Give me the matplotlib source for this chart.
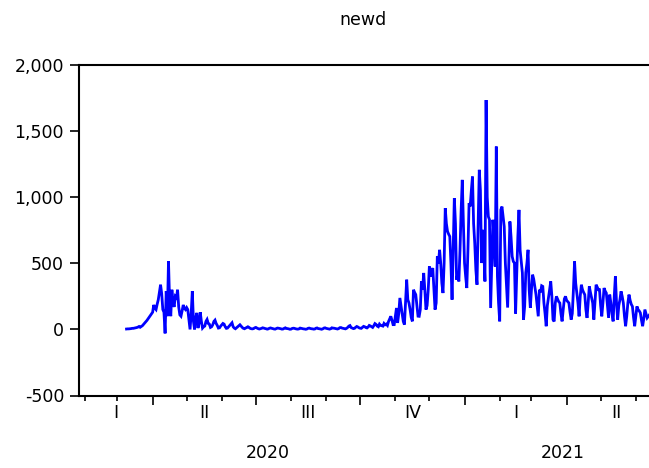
import numpy as np
import pandas as pd
import matplotlib
matplotlib.use("Agg")
import matplotlib.pyplot as plt
import matplotlib.dates as mdates
import matplotlib.transforms as mtransforms
from matplotlib.ticker import FuncFormatter

plt.rcParams['font.family'] = ['DejaVu Sans']

title = "newd"
start_date = "2020-03-09"
newd = [
    3, 4, 4, 5, 6, 8, 8, 10, 12, 14, 17,
    22, 16, 22, 28, 38, 48, 58, 68, 80, 92,
    105, 118, 130, 185, 160, 150, 190, 225, 280, 338,
    270, 150, 130, -30, 290, 100, 515, 200, 100, 300,
    200, 170, 250, 240, 300, 170, 110, 100, 140, 185,
    160, 150, 165, 150, 75, 0, 120, 290, 60, 0,
    90, 125, 10, 50, 130, 60, 10, 20, 25, 60,
    75, 45, 40, 15, 20, 35, 60, 70, 45, 30,
    10, 12, 25, 35, 45, 40, 20, 8, 10, 20,
    30, 40, 50, 20, 10, 5, 12, 20, 28, 35,
    25, 15, 8, 5, 10, 15, 20, 15, 8, 5,
    4, 6, 12, 15, 10, 6, 3,
    5, 8, 12, 10, 7, 5, 2,
    4, 9, 11, 8, 6, 3, 2,
    6, 10, 9, 7, 5, 2, 3,
    8, 12, 7, 6, 4, 1, 2,
    7, 9, 8, 5, 3, 2, 4,
    10, 8, 6, 4, 3, 1, 3,
    8, 10, 7, 5, 4, 2, 3,
    9, 11, 6, 5, 3, 1, 4,
    10, 12, 8, 6, 4, 2, 5,
    12, 10, 9, 7, 5, 3, 6,
    13, 14, 10, 8, 6, 4, 8,
    15, 25, 29, 14, 10, 6, 8,
    16, 22, 18, 12, 9, 8, 15,
    23, 20, 14, 11, 18, 30, 26,
    20, 15, 28, 44, 38, 25, 20,
    40, 30, 28, 25, 45, 35, 40,
    30, 60, 80, 99, 70, 36, 36,
    100, 162, 49, 120, 238, 180, 127,
    60, 36, 200, 376, 225, 200, 150,
    90, 61, 300, 280, 263, 180, 100,
    99, 150, 363, 300, 427, 300, 150,
    180, 300, 476, 400, 440, 464, 300,
    150, 200, 552, 500, 602, 500, 350,
    275, 500, 917, 800, 741, 720, 703,
    500, 225, 600, 993, 800, 376, 420,
    363, 600, 900, 1131, 800, 502, 400,
    313, 600, 955, 930, 1050, 1156, 800,
    653, 450, 338, 800, 1207, 1050, 502,
    753, 600, 363, 1735, 1000, 853, 830,
    162, 500, 829, 700, 476, 1383, 401,
    200, 61, 904, 929, 850, 778, 500,
    325, 165, 500, 816, 700, 552, 514,
    502, 120, 400, 700, 904, 600, 514,
    427, 74, 174, 429, 500, 602, 300,
    164, 300, 414, 380, 320, 263, 180,
    99, 300, 280, 330, 325, 200, 120,
    24, 180, 238, 300, 363, 250, 74,
    60, 200, 250, 230, 210, 200, 120,
    61, 150, 230, 250, 220, 210, 200,
    130, 74, 120, 300, 514, 350, 275,
    200, 99, 250, 338, 300, 280, 263,
    150, 87, 200, 325, 280, 240, 200,
    74, 200, 338, 320, 300, 300, 180,
    99, 200, 313, 290, 275, 180, 87,
    263, 200, 120, 61, 250, 401, 200,
    74, 180, 225, 288, 250, 200, 100,
    24, 100, 200, 263, 220, 190, 174,
    90, 24, 100, 174, 150, 140, 125,
    70, 24, 80, 150, 120, 87, 99,
    110, 90,
]
y_ticks = [-500, 0, 500, 1000, 1500, 2000]
quarter_names = ["I", "II", "III", "IV"]
x_range = ["2020-01-26 20:00", "2021-06-28 12:00"]

dates = pd.date_range(start_date, periods=len(newd), freq="D")

W, H = 649, 468
FS = 12.5
fig = plt.figure(figsize=(W / 100, H / 100), dpi=100)
left_px, right_px, top_px, bot_px = 78.7, 667.0, 65.0, 395.5
ax = fig.add_axes([left_px / W, 1 - bot_px / H, (right_px - left_px) / W, (bot_px - top_px) / H])

ax.plot(dates, newd, color=(0, 0, 1), lw=2.0, solid_joinstyle='miter')

xmin, xmax = pd.Timestamp(x_range[0]), pd.Timestamp(x_range[1])
ax.set_xlim(xmin, xmax)
ax.set_ylim(y_ticks[0], y_ticks[-1])
ax.set_yticks(y_ticks)
ax.yaxis.set_major_formatter(FuncFormatter(lambda v, p: f"{int(v):,}"))

for s in ["left", "bottom", "top"]:
    ax.spines[s].set_linewidth(1.5)
    ax.spines[s].set_color("black")
ax.spines["right"].set_visible(False)

ax.xaxis.set_major_locator(mdates.MonthLocator(bymonth=[1, 4, 7, 10]))
ax.xaxis.set_minor_locator(mdates.MonthLocator())
ax.xaxis.set_major_formatter(plt.NullFormatter())
ax.tick_params(axis="x", which="major", direction="out", length=6.5, width=1.2, top=False)
ax.tick_params(axis="x", which="minor", direction="out", length=3.5, width=1.2, top=False)
ax.tick_params(axis="y", which="major", direction="out", length=6.5, width=1.2,
               labelsize=FS, pad=4, right=False)

trans = mtransforms.blended_transform_factory(ax.transData, fig.transFigure)
xmin_n, xmax_n = mdates.date2num(xmin), mdates.date2num(xmax)

q_starts = pd.date_range("2020-01-01", "2021-07-01", freq="QS")
for qs in q_starts:
    qe = qs + pd.offsets.QuarterBegin(startingMonth=1)
    a = max(mdates.date2num(qs), xmin_n)
    b = min(mdates.date2num(qe), xmax_n)
    if b <= a:
        continue
    ax.text((a + b) / 2, 1 - 413 / H, quarter_names[qs.quarter - 1], transform=trans,
            ha="center", va="center", fontsize=FS, clip_on=False)

for yr in [2020, 2021]:
    a = max(mdates.date2num(pd.Timestamp(f"{yr}-01-01")), xmin_n)
    b = min(mdates.date2num(pd.Timestamp(f"{yr + 1}-01-01")), xmax_n)
    ax.text((a + b) / 2 - 3, 1 - 453 / H, str(yr), transform=trans,
            ha="center", va="center", fontsize=FS, clip_on=False)

fig.text(363 / W, 1 - 20 / H, title, ha="center", va="center", fontsize=FS)

fig.savefig("out.png", dpi=100)
